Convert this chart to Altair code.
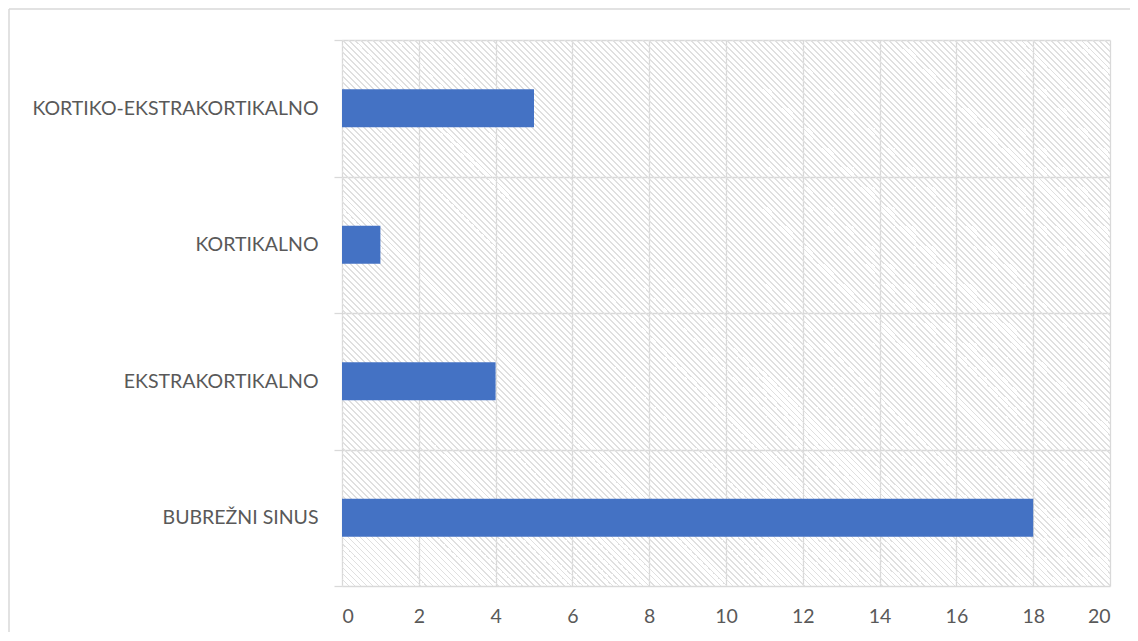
import altair as alt
import pandas as pd

categories = ["KORTIKO-EKSTRAKORTIKALNO", "KORTIKALNO", "EKSTRAKORTIKALNO", "BUBREŽNI SINUS"]
values = [5, 1, 4, 18]
x_ticks = [0, 2, 4, 6, 8, 10, 12, 14, 16, 18, 20]

df = pd.DataFrame({"category": categories, "value": values})

W, H = 768, 546
FONT = "Lato"
FS = 19.5
TEXT = "#595959"
GRID = "#d9d9d9"

# diagonal hatch fill for the plot area (style only)
L = W + H
period = 6.0
gray_w = 1.6
STRIPE = "#e0e0e0"
CLEAR = "rgba(255,255,255,0)"
stops = []
k = 0
while (k * period + period) / L <= 1.0:
    a = k * period / L
    b = (k * period + gray_w) / L
    c = (k * period + period) / L
    stops += [
        alt.GradientStop(offset=a, color=STRIPE),
        alt.GradientStop(offset=b, color=STRIPE),
        alt.GradientStop(offset=b, color=CLEAR),
        alt.GradientStop(offset=c, color=CLEAR),
    ]
    k += 1
r = H / W
s = (1 + r) / (1 + r * r)
hatch = alt.LinearGradient(gradient="linear", x1=0, y1=1, x2=s, y2=1 - s * r, stops=stops)

frame_data = alt.Data(values=[{"a": 1}])

background = alt.Chart(frame_data).mark_rect(color=hatch, strokeWidth=0).encode(
    x=alt.value(0), x2=alt.value(W), y=alt.value(0), y2=alt.value(H))

bars = alt.Chart(df).mark_bar(color="#4472C4", size=38).encode(
    x=alt.X("value:Q",
            scale=alt.Scale(domain=[0, 20], nice=False),
            axis=alt.Axis(values=x_ticks, title=None, grid=True, gridColor=GRID,
                          gridWidth=1.3, ticks=False, domain=False,
                          labelFont=FONT, labelFontSize=FS, labelColor=TEXT,
                          labelPadding=21)),
    y=alt.Y("category:N", sort=categories,
            scale=alt.Scale(paddingInner=0, paddingOuter=0),
            axis=alt.Axis(title=None, grid=True, gridColor=GRID, gridWidth=1.3,
                          tickBand="extent", ticks=True, tickSize=8, tickColor=GRID,
                          tickWidth=1.3, domain=False, labelLimit=500,
                          labelFont=FONT, labelFontSize=FS, labelColor=TEXT,
                          labelPadding=16)),
)

left_line = alt.Chart(frame_data).mark_rule(color=GRID, strokeWidth=1.5).encode(
    x=alt.value(-333), y=alt.value(-31), y2=alt.value(H + 46))
top_line = alt.Chart(frame_data).mark_rule(color=GRID, strokeWidth=1.5).encode(
    x=alt.value(-333), x2=alt.value(W + 20), y=alt.value(-31))

chart = alt.layer(background, bars, left_line, top_line).properties(
    width=W, height=H,
    autosize=alt.AutoSizeParams(type="none"),
    padding={"left": 334, "top": 32, "right": 20, "bottom": 46},
    background="white",
).configure_view(strokeWidth=0)

chart.save("out.html", embed_options={"renderer": "svg", "actions": False})
